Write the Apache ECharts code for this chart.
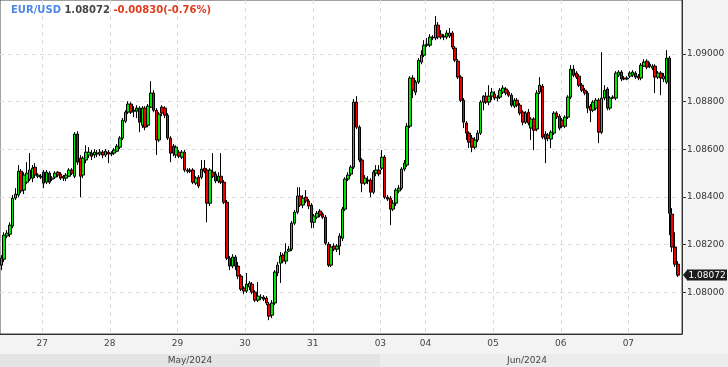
<!DOCTYPE html>
<html><head><meta charset="utf-8">
<script src="https://cdn.jsdelivr.net/npm/echarts@6/dist/echarts.min.js"></script>
<style>html,body{margin:0;padding:0;background:#f3f3f3}#c{width:728px;height:367px}</style>
</head><body><div id="c"></div>
<script>
const symbolName = 'EUR/USD';
const lastPrice = 1.08072;
const changeText = '-0.00830(-0.76%)';

const opens = [
1.08114,1.08139,1.08236,1.08244,1.08278,1.08395,1.08408,1.08508,1.08429,1.08462,
1.08475,1.08479,1.08525,1.08487,1.08487,1.08504,1.08462,1.08500,1.08475,1.08483,
1.08504,1.08496,1.08487,1.08479,1.08487,1.08513,1.08487,1.08664,1.08563,1.08492,
1.08555,1.08576,1.08584,1.08576,1.08584,1.08580,1.08588,1.08576,1.08588,1.08580,
1.08584,1.08592,1.08609,1.08647,1.08718,1.08756,1.08790,1.08760,1.08760,1.08773,
1.08701,1.08773,1.08701,1.08777,1.08836,1.08764,1.08639,1.08777,1.08773,1.08743,
1.08647,1.08613,1.08576,1.08588,1.08567,1.08588,1.08508,1.08513,1.08513,1.08458,
1.08483,1.08483,1.08521,1.08513,1.08374,1.08504,1.08496,1.08467,1.08487,1.08462,
1.08378,1.08143,1.08110,1.08148,1.08110,1.08068,1.08018,1.08005,1.08022,1.08034,
1.08001,1.07967,1.07976,1.07980,1.07976,1.07950,1.07904,1.07955,1.08081,1.08122,
1.08156,1.08131,1.08173,1.08181,1.08290,1.08336,1.08404,1.08366,1.08399,1.08383,
1.08366,1.08294,1.08315,1.08341,1.08328,1.08315,1.08202,1.08114,1.08194,1.08181,
1.08194,1.08227,1.08349,1.08475,1.08496,1.08525,1.08798,1.08693,1.08555,1.08458,
1.08471,1.08471,1.08420,1.08500,1.08513,1.08521,1.08567,1.08399,1.08395,1.08349,
1.08374,1.08425,1.08437,1.08517,1.08534,1.08697,1.08899,1.08840,1.08882,1.08966,
1.08995,1.09037,1.09037,1.09071,1.09067,1.09121,1.09083,1.09075,1.09071,1.09075,
1.09088,1.09025,1.08970,1.08903,1.08806,1.08710,1.08668,1.08647,1.08609,1.08639,
1.08668,1.08798,1.08823,1.08798,1.08823,1.08832,1.08815,1.08819,1.08840,1.08853,
1.08840,1.08827,1.08781,1.08806,1.08785,1.08756,1.08714,1.08756,1.08689,1.08727,
1.08685,1.08840,1.08865,1.08664,1.08660,1.08643,1.08668,1.08752,1.08739,1.08722,
1.08697,1.08735,1.08819,1.08936,1.08920,1.08907,1.08869,1.08848,1.08836,1.08781,
1.08764,1.08773,1.08806,1.08672,1.08815,1.08853,1.08773,1.08815,1.08815,1.08911,
1.08924,1.08899,1.08895,1.08907,1.08911,1.08920,1.08907,1.08899,1.08949,1.08970,
1.08957,1.08941,1.08949,1.08903,1.08920,1.08895,1.08882,1.08983,1.08328,1.08190,
1.08118];

const closes = [
1.08143,1.08240,1.08248,1.08282,1.08395,1.08412,1.08508,1.08425,1.08492,1.08500,
1.08513,1.08521,1.08492,1.08492,1.08483,1.08458,1.08504,1.08462,1.08479,1.08500,
1.08492,1.08479,1.08479,1.08492,1.08513,1.08500,1.08664,1.08546,1.08487,1.08563,
1.08588,1.08588,1.08571,1.08588,1.08580,1.08588,1.08576,1.08592,1.08580,1.08584,
1.08597,1.08613,1.08647,1.08722,1.08756,1.08790,1.08756,1.08764,1.08773,1.08714,
1.08773,1.08693,1.08781,1.08836,1.08764,1.08639,1.08748,1.08752,1.08743,1.08647,
1.08584,1.08584,1.08609,1.08571,1.08588,1.08513,1.08513,1.08508,1.08462,1.08479,
1.08446,1.08517,1.08508,1.08374,1.08513,1.08487,1.08467,1.08487,1.08462,1.08378,
1.08143,1.08110,1.08148,1.08110,1.08068,1.08013,1.08005,1.08034,1.08039,1.08001,
1.07967,1.07984,1.07980,1.07971,1.07955,1.07900,1.07955,1.08085,1.08114,1.08152,
1.08131,1.08169,1.08181,1.08290,1.08336,1.08404,1.08366,1.08395,1.08383,1.08362,
1.08294,1.08320,1.08332,1.08324,1.08315,1.08206,1.08114,1.08190,1.08181,1.08194,
1.08236,1.08349,1.08475,1.08492,1.08525,1.08798,1.08693,1.08555,1.08458,1.08479,
1.08467,1.08420,1.08504,1.08513,1.08496,1.08567,1.08399,1.08391,1.08349,1.08374,
1.08429,1.08437,1.08517,1.08542,1.08697,1.08899,1.08848,1.08882,1.08974,1.08995,
1.09037,1.09041,1.09071,1.09067,1.09121,1.09071,1.09071,1.09071,1.09088,1.09088,
1.09029,1.08974,1.08903,1.08806,1.08714,1.08668,1.08630,1.08609,1.08639,1.08668,
1.08798,1.08823,1.08798,1.08823,1.08840,1.08815,1.08819,1.08848,1.08857,1.08836,
1.08827,1.08785,1.08806,1.08785,1.08752,1.08714,1.08752,1.08710,1.08727,1.08680,
1.08836,1.08869,1.08651,1.08643,1.08647,1.08672,1.08752,1.08735,1.08689,1.08697,
1.08735,1.08819,1.08936,1.08911,1.08903,1.08869,1.08848,1.08836,1.08773,1.08764,
1.08798,1.08806,1.08672,1.08815,1.08848,1.08773,1.08815,1.08819,1.08920,1.08924,
1.08895,1.08895,1.08899,1.08920,1.08924,1.08903,1.08899,1.08953,1.08966,1.08945,
1.08949,1.08949,1.08903,1.08920,1.08899,1.08907,1.08983,1.08332,1.08190,1.08118,
1.08072];

const lows = [
1.08093,1.08127,1.08227,1.08232,1.08269,1.08387,1.08399,1.08416,1.08412,1.08454,
1.08467,1.08462,1.08479,1.08479,1.08475,1.08437,1.08454,1.08454,1.08467,1.08475,
1.08483,1.08471,1.08467,1.08467,1.08483,1.08492,1.08479,1.08534,1.08399,1.08479,
1.08542,1.08563,1.08555,1.08563,1.08567,1.08571,1.08563,1.08567,1.08542,1.08571,
1.08576,1.08588,1.08601,1.08639,1.08710,1.08748,1.08748,1.08735,1.08731,1.08672,
1.08689,1.08680,1.08693,1.08773,1.08756,1.08576,1.08630,1.08739,1.08731,1.08639,
1.08546,1.08571,1.08563,1.08563,1.08559,1.08504,1.08500,1.08500,1.08454,1.08450,
1.08437,1.08475,1.08500,1.08294,1.08362,1.08479,1.08458,1.08458,1.08454,1.08370,
1.08135,1.08093,1.08101,1.08093,1.08055,1.08005,1.07992,1.07997,1.08009,1.07992,
1.07959,1.07959,1.07967,1.07963,1.07946,1.07883,1.07892,1.07946,1.08068,1.08039,
1.08122,1.08118,1.08169,1.08173,1.08282,1.08328,1.08358,1.08353,1.08374,1.08349,
1.08269,1.08269,1.08307,1.08315,1.08307,1.08198,1.08106,1.08106,1.08173,1.08169,
1.08156,1.08215,1.08341,1.08467,1.08487,1.08517,1.08685,1.08546,1.08420,1.08450,
1.08454,1.08399,1.08412,1.08487,1.08487,1.08513,1.08391,1.08383,1.08282,1.08341,
1.08362,1.08416,1.08429,1.08508,1.08525,1.08689,1.08815,1.08827,1.08874,1.08957,
1.08987,1.09029,1.09029,1.09058,1.09058,1.09062,1.09062,1.09058,1.09062,1.09067,
1.09020,1.08966,1.08895,1.08798,1.08689,1.08639,1.08605,1.08588,1.08601,1.08630,
1.08660,1.08764,1.08790,1.08785,1.08806,1.08806,1.08802,1.08811,1.08832,1.08827,
1.08819,1.08777,1.08773,1.08777,1.08743,1.08701,1.08706,1.08701,1.08639,1.08597,
1.08676,1.08832,1.08643,1.08542,1.08634,1.08605,1.08660,1.08727,1.08680,1.08689,
1.08689,1.08727,1.08811,1.08903,1.08895,1.08861,1.08840,1.08827,1.08752,1.08714,
1.08756,1.08764,1.08626,1.08664,1.08806,1.08764,1.08764,1.08811,1.08806,1.08903,
1.08886,1.08890,1.08890,1.08899,1.08903,1.08895,1.08890,1.08890,1.08945,1.08936,
1.08941,1.08932,1.08836,1.08895,1.08827,1.08882,1.08874,1.08240,1.08169,1.08106,
1.08064];

const highs = [
1.08156,1.08252,1.08261,1.08294,1.08408,1.08437,1.08534,1.08517,1.08504,1.08546,
1.08584,1.08534,1.08542,1.08500,1.08496,1.08513,1.08513,1.08508,1.08487,1.08508,
1.08508,1.08504,1.08492,1.08500,1.08521,1.08521,1.08672,1.08676,1.08576,1.08571,
1.08617,1.08609,1.08597,1.08601,1.08597,1.08601,1.08597,1.08601,1.08597,1.08592,
1.08605,1.08622,1.08655,1.08731,1.08764,1.08802,1.08798,1.08781,1.08785,1.08781,
1.08781,1.08781,1.08790,1.08886,1.08848,1.08773,1.08756,1.08785,1.08781,1.08752,
1.08655,1.08622,1.08617,1.08597,1.08597,1.08597,1.08521,1.08521,1.08521,1.08487,
1.08492,1.08555,1.08555,1.08521,1.08521,1.08584,1.08508,1.08504,1.08584,1.08471,
1.08387,1.08152,1.08160,1.08156,1.08127,1.08076,1.08026,1.08081,1.08047,1.08043,
1.08009,1.08043,1.07992,1.07988,1.07984,1.07959,1.07967,1.08093,1.08127,1.08169,
1.08164,1.08206,1.08194,1.08299,1.08345,1.08441,1.08441,1.08408,1.08429,1.08391,
1.08374,1.08328,1.08341,1.08349,1.08336,1.08324,1.08211,1.08202,1.08206,1.08202,
1.08248,1.08358,1.08483,1.08504,1.08534,1.08811,1.08823,1.08701,1.08563,1.08492,
1.08487,1.08479,1.08513,1.08534,1.08534,1.08597,1.08576,1.08408,1.08404,1.08387,
1.08437,1.08450,1.08525,1.08555,1.08710,1.08907,1.08911,1.08890,1.08983,1.09016,
1.09058,1.09067,1.09083,1.09079,1.09159,1.09134,1.09100,1.09083,1.09100,1.09109,
1.09096,1.09033,1.08978,1.08911,1.08815,1.08718,1.08676,1.08660,1.08651,1.08680,
1.08806,1.08827,1.08840,1.08869,1.08857,1.08844,1.08827,1.08857,1.08869,1.08861,
1.08848,1.08836,1.08815,1.08815,1.08794,1.08764,1.08760,1.08769,1.08735,1.08735,
1.08848,1.08903,1.08874,1.08676,1.08668,1.08680,1.08760,1.08760,1.08748,1.08731,
1.08743,1.08827,1.08953,1.08953,1.08928,1.08916,1.08878,1.08857,1.08844,1.08790,
1.08806,1.08815,1.08815,1.09008,1.08869,1.08861,1.08823,1.08827,1.08928,1.08932,
1.08932,1.08907,1.08907,1.08928,1.08932,1.08928,1.08916,1.08962,1.08978,1.08978,
1.08966,1.08957,1.08957,1.08928,1.08928,1.08920,1.09016,1.08991,1.08353,1.08252,
1.08131];

const dayTickIndex  = [15, 39, 63, 87, 111, 135, 151, 175, 199, 223];
const dayTickLabels = ['27','28','29','30','31','03','04','05','06','07'];
const monthLabels   = ['May/2024', 'Jun/2024'];
const yTicks = [1.080, 1.082, 1.084, 1.086, 1.088, 1.090];

const slotCount = 242;
const categories = Array.from({length: slotCount}, (_, i) => String(i));
const candles = opens.map((o, i) => [o, closes[i], lows[i], highs[i]]);

const FONT = 'DejaVu Sans';
const isDay = (i) => dayTickIndex.indexOf(i) >= 0;
const chart = echarts.init(document.getElementById('c'), null, {renderer: 'canvas'});

chart.setOption({
  animation: false,
  backgroundColor: '#f3f3f3',
  title: {
    text: '{s|' + symbolName + '} {p|' + lastPrice.toFixed(5) + '} {c|' + changeText + '}',
    left: 11, top: 5, padding: 0,
    textStyle: {
      fontFamily: FONT, fontSize: 10, fontWeight: 'bold',
      rich: {
        s: {fontFamily: FONT, fontSize: 10, fontWeight: 'bold', color: '#4f86e6'},
        p: {fontFamily: FONT, fontSize: 10, fontWeight: 'bold', color: '#454545'},
        c: {fontFamily: FONT, fontSize: 10, fontWeight: 'bold', color: '#e03c1e'}
      }
    }
  },
  grid: {left: 0, right: 46, top: 0, bottom: 33, show: true, backgroundColor: '#fff', borderColor: '#444', borderWidth: 1},
  xAxis: {
    type: 'category', data: categories, boundaryGap: true,
    axisLine: {lineStyle: {color: '#333'}},
    axisTick: {interval: (i) => isDay(i), length: 3, lineStyle: {color: '#333'}},
    axisLabel: {
      interval: (i) => isDay(i),
      formatter: (v, i) => { const k = dayTickIndex.indexOf(Number(v)); return k >= 0 ? '{d|' + dayTickLabels[k] + '}' : ''; },
      margin: 5,
      rich: {d: {fontFamily: FONT, fontSize: 9, color: '#444', padding: [0, 3, 0, 0]}}
    },
    splitLine: {show: true, interval: (i) => isDay(i), lineStyle: {color: '#dcdcdc', type: [4, 4]}}
  },
  yAxis: {
    type: 'value', position: 'right', min: 1.07825, max: 1.092266, scale: true,
    axisLine: {show: true, lineStyle: {color: '#333'}},
    axisTick: {show: true, length: 4, customValues: yTicks, lineStyle: {color: '#333'}},
    axisLabel: {customValues: yTicks, formatter: (v) => v.toFixed(5), margin: 5, fontFamily: FONT, fontSize: 9, color: '#333'},
    splitLine: {show: true, lineStyle: {color: '#dcdcdc', type: [4, 4]}}
  },
  series: [{
    type: 'candlestick',
    data: candles,
    barWidth: 3,
    itemStyle: {color: '#00e600', color0: '#ee0000', borderColor: '#000', borderColor0: '#000', borderColorDoji: '#000', borderWidth: 1}
  }]
});

const yTag = Math.round(chart.convertToPixel({yAxisIndex: 0}, lastPrice));
chart.setOption({
  graphic: [
    {type: 'rect', shape: {x: 0, y: 354, width: 380, height: 13}, style: {fill: '#e4e4e4'}, silent: true, z: -1},
    {type: 'rect', shape: {x: 380, y: 354, width: 348, height: 13}, style: {fill: '#ececec'}, silent: true, z: -1},
    {type: 'text', x: 190, y: 361, style: {text: monthLabels[0], textAlign: 'center', textVerticalAlign: 'middle', font: '9px "DejaVu Sans"', fill: '#444'}},
    {type: 'text', x: 527, y: 361, style: {text: monthLabels[1], textAlign: 'center', textVerticalAlign: 'middle', font: '9px "DejaVu Sans"', fill: '#444'}},
    {type: 'polygon', shape: {points: [[683, yTag], [687.5, yTag - 5.5], [687.5, yTag + 5.5]]}, style: {fill: '#1c1c1c'}, z: 100},
    {type: 'rect', shape: {x: 687, y: yTag - 5.5, width: 40, height: 11}, style: {fill: '#1c1c1c'}, z: 100},
    {type: 'text', x: 707, y: yTag + 0.5, style: {text: lastPrice.toFixed(5), textAlign: 'center', textVerticalAlign: 'middle', font: '9px "DejaVu Sans"', fill: '#fff'}, z: 101}
  ]
});
</script>
</body></html>
